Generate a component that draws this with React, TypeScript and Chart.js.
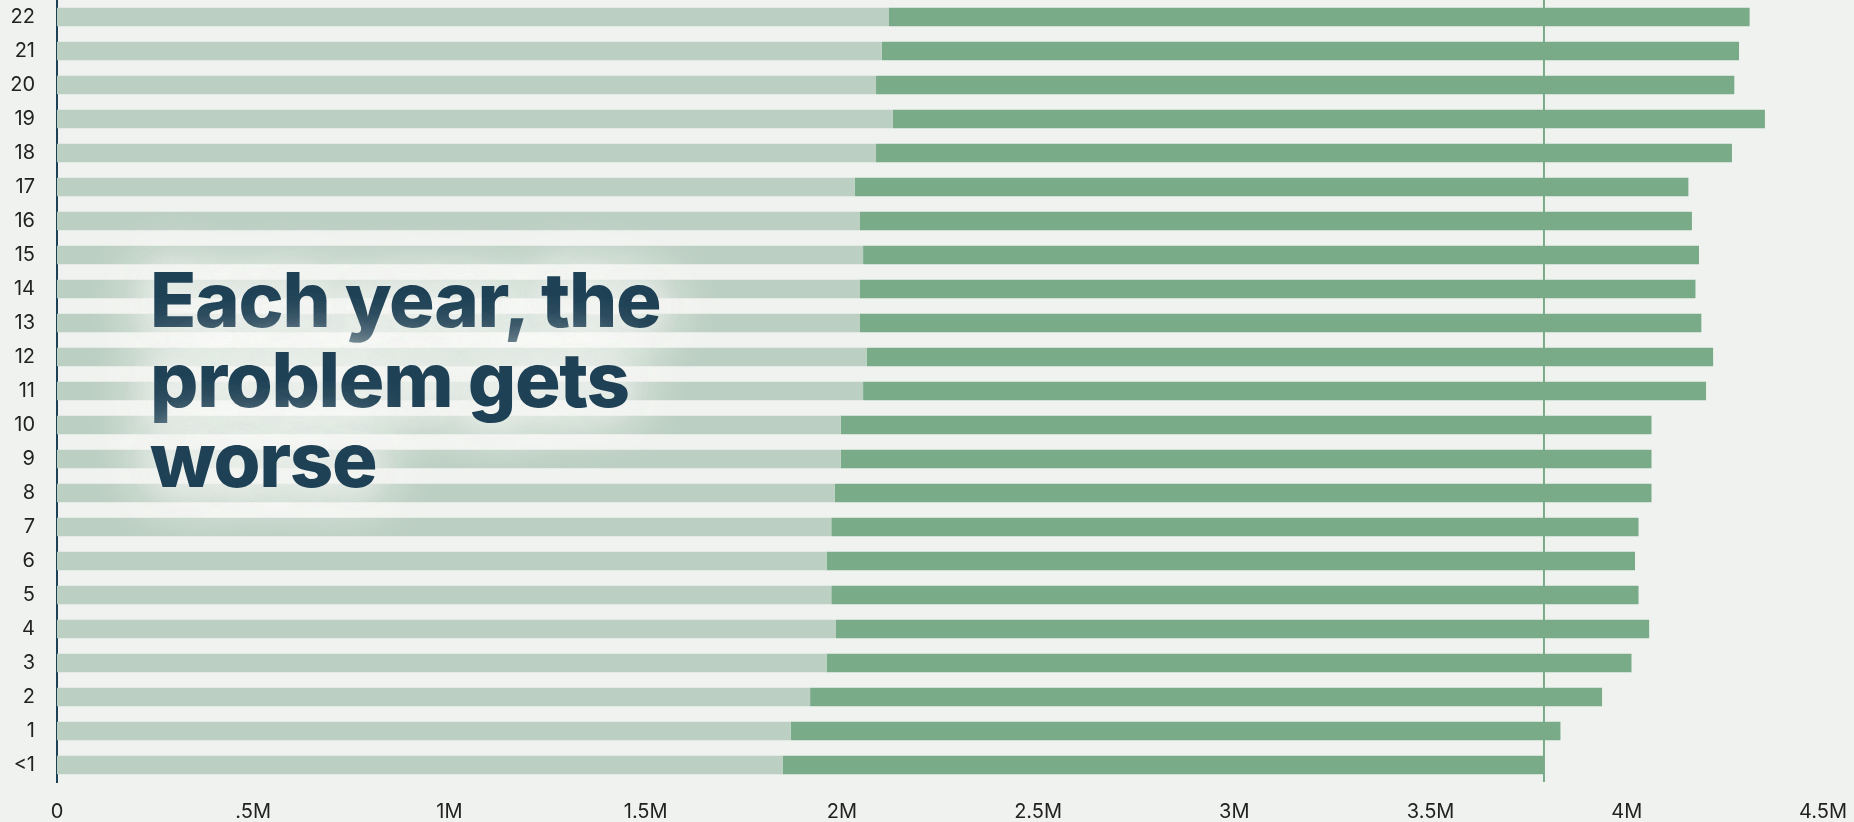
import React, { useEffect, useRef } from "react";
import { Chart, registerables } from "chart.js";

Chart.register(...registerables);

const ageLabels = ["<1", "1", "2", "3", "4", "5", "6", "7", "8", "9", "10", "11", "12", "13", "14", "15", "16", "17", "18", "19", "20", "21", "22"];
// light segment (millions)
const baseValues = [1.849, 1.870, 1.919, 1.961, 1.985, 1.973, 1.961, 1.973, 1.982, 1.997, 1.997, 2.054, 2.063, 2.045, 2.045, 2.054, 2.045, 2.033, 2.087, 2.130, 2.087, 2.102, 2.120];
// total bar length (millions)
const totalValues = [3.789, 3.831, 3.937, 4.012, 4.057, 4.030, 4.021, 4.030, 4.063, 4.063, 4.063, 4.202, 4.220, 4.190, 4.175, 4.184, 4.166, 4.157, 4.268, 4.352, 4.274, 4.286, 4.313];
const xTickLabels = ["0", ".5M", "1M", "1.5M", "2M", "2.5M", "3M", "3.5M", "4M", "4.5M"];
const referenceValue = 3.789;
const titleLines = ["Each year, the", "problem gets", "worse"];

const BG = "#f0f2ef";
const LIGHT = "#bccfc3";
const DARK = "#7aab89";
const NAVY = "#1f4155";

export default function App() {
  const canvasRef = useRef<HTMLCanvasElement | null>(null);

  useEffect(() => {
    const canvas = canvasRef.current;
    if (!canvas) return;
    const extraValues = totalValues.map((t, i) => +(t - baseValues[i]).toFixed(3));
    const refLine = {
      id: "refLine",
      beforeDatasetsDraw(chart: any) {
        const { ctx, chartArea, scales } = chart;
        const x = scales.x.getPixelForValue(referenceValue);
        ctx.save();
        ctx.strokeStyle = DARK;
        ctx.lineWidth = 2;
        ctx.beginPath();
        ctx.moveTo(x, chartArea.top);
        ctx.lineTo(x, chartArea.bottom);
        ctx.stroke();
        ctx.restore();
      },
    };
    const chart = new Chart(canvas, {
      type: "bar",
      data: {
        labels: ageLabels,
        datasets: [
          { data: baseValues, backgroundColor: LIGHT, barPercentage: 0.54, categoryPercentage: 1 },
          { data: extraValues, backgroundColor: DARK, barPercentage: 0.54, categoryPercentage: 1 },
        ],
      },
      options: {
        indexAxis: "y",
        animation: false,
        responsive: true,
        maintainAspectRatio: false,
        layout: { padding: { top: 0, right: 31, left: 0, bottom: 0 } },
        plugins: { legend: { display: false }, tooltip: { enabled: false } },
        scales: {
          x: {
            stacked: true,
            min: 0,
            max: 4.5,
            grid: { display: false, drawTicks: false },
            border: { display: false },
            afterFit: (s: any) => { s.height = 40; s.paddingRight = 0; s.paddingLeft = 0; },
            ticks: {
              stepSize: 0.5,
              padding: 18,
              color: "#222",
              font: { family: "Inter", size: 20 },
              maxRotation: 0,
              autoSkip: false,
              callback: (_v: any, i: number) => xTickLabels[i],
            },
          },
          y: {
            stacked: true,
            reverse: true,
            grid: { display: false, drawTicks: false },
            border: { display: true, color: NAVY, width: 2 },
            afterFit: (s: any) => { s.width = 57; s.paddingTop = 0; s.paddingBottom = 0; },
            ticks: {
              padding: 22,
              color: "#222",
              font: { family: "Inter", size: 20 },
              autoSkip: false,
            },
          },
        },
      },
      plugins: [refLine],
    });
    return () => chart.destroy();
  }, []);

  return (
    <div style={{ position: "absolute", left: 0, top: 0, width: 1854, height: 822, background: BG, overflow: "hidden" }}>
      <canvas ref={canvasRef} />
      <div
        style={{
          position: "absolute",
          left: 150,
          top: 259,
          fontFamily: "Inter",
          fontWeight: 800,
          fontSize: 76,
          lineHeight: "80px",
          color: NAVY,
          whiteSpace: "nowrap",
          letterSpacing: "-1.3px",
          textShadow: `0 0 30px ${BG}, 0 0 50px ${BG}, 0 0 70px ${BG}, 0 0 70px ${BG}`,
        }}
      >
        {titleLines.map((l, i) => (
          <div key={i}>{l}</div>
        ))}
      </div>
    </div>
  );
}
